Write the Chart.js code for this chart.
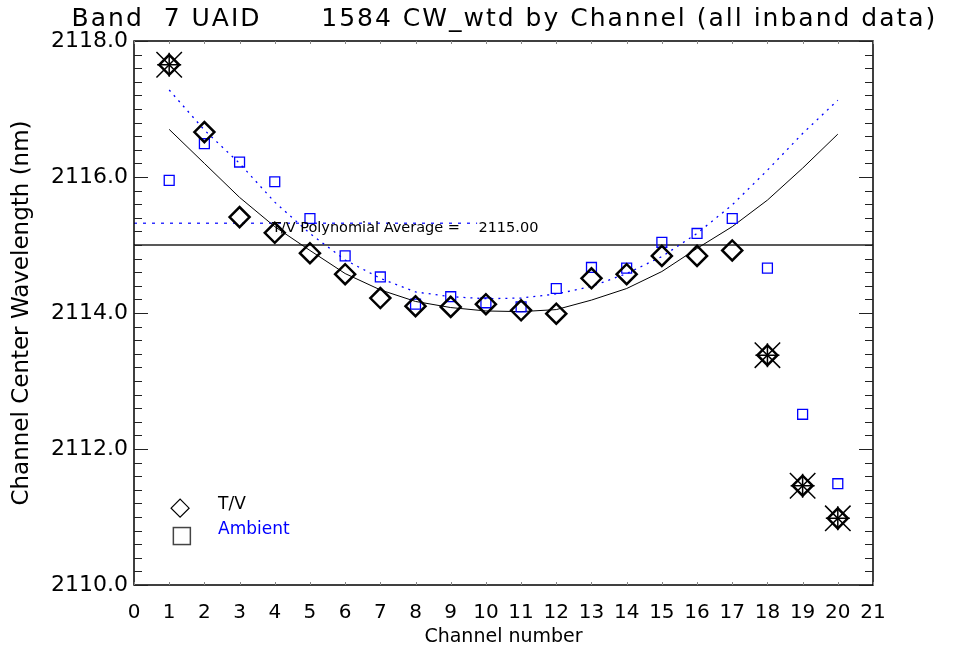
<!DOCTYPE html>
<html>
<head>
<meta charset="utf-8">
<script src="https://cdn.jsdelivr.net/npm/chart.js@4"></script>
<style>
  body { margin: 0; background: #fff; }
</style>
</head>
<body>
<canvas id="chart-cw" width="957" height="652"></canvas>
<script>
// channels 1..20
var channels = [1, 2, 3, 4, 5, 6, 7, 8, 9, 10, 11, 12, 13, 14, 15, 16, 17, 18, 19, 20];
// measured centre wavelengths (nm)
var tv_values = [2117.65, 2116.66, 2115.41, 2115.18, 2114.88, 2114.57, 2114.22, 2114.10, 2114.09, 2114.13,
	2114.04, 2113.99, 2114.51, 2114.57, 2114.84, 2114.84, 2114.92, 2113.38, 2111.46, 2110.98];
var ambient_values = [2115.95, 2116.49, 2116.22, 2115.93, 2115.39, 2114.84, 2114.53, 2114.13, 2114.24, 2114.15,
	2114.09, 2114.36, 2114.67, 2114.66, 2115.04, 2115.17, 2115.39, 2114.66, 2112.51, 2111.49];
// polynomial fits
var tv_fit = [2116.70, 2116.20, 2115.70, 2115.27, 2114.92, 2114.58, 2114.34, 2114.17, 2114.08, 2114.03,
	2114.02, 2114.05, 2114.19, 2114.36, 2114.61, 2114.95, 2115.27, 2115.66, 2116.13, 2116.63];
var ambient_fit = [2117.28, 2116.69, 2116.20, 2115.63, 2115.17, 2114.78, 2114.51, 2114.31, 2114.24, 2114.21,
	2114.22, 2114.28, 2114.39, 2114.58, 2114.83, 2115.17, 2115.59, 2116.10, 2116.64, 2117.13];
// channels flagged with a star (excluded points)
var outlier_channels = [1, 18, 19, 20];
var tv_average = 2115.00;
var ambient_average = 2115.32;
var ambient_avg_range = [0, 9.75];
var x_ticks = [0, 21];
var y_ticks = [2110, 2118];

var font_name = "'DejaVu Sans', sans-serif";

function pts(xs, ys) {
	var out = [];
	for (var i = 0; i < xs.length; i++) out.push({x: xs[i], y: ys[i]});
	return out;
}

var outlier_pts = [];
outlier_channels.forEach(function (c) {
	outlier_pts.push({x: c, y: tv_values[channels.indexOf(c)]});
});

var idl_plugin = {
	id: 'idl_plugin',
	afterDraw: function (chart) {
		var ctx = chart.ctx;
		var a = chart.chartArea;
		var sx = chart.scales.x, sy = chart.scales.y;
		ctx.save();

		/* frame */
		ctx.strokeStyle = '#000';
		ctx.lineWidth = 1.5;
		ctx.strokeRect(a.left, a.top, a.right - a.left, a.bottom - a.top);

		/* y ticks every 0.2, both sides */
		ctx.lineWidth = 1;
		ctx.strokeStyle = '#222';
		for (var k = 0; k <= 40; k++) {
			var v = y_ticks[0] + k * 0.2;
			var py = Math.round(sy.getPixelForValue(v)) + 0.5;
			var len = (k % 10 === 0) ? 14 : 8;
			ctx.beginPath();
			ctx.moveTo(a.left, py); ctx.lineTo(a.left + len, py);
			ctx.moveTo(a.right, py); ctx.lineTo(a.right - len, py);
			ctx.stroke();
		}
		/* x ticks every channel, short */
		ctx.strokeStyle = '#888';
		for (var c = x_ticks[0]; c <= x_ticks[1]; c++) {
			var px = Math.round(sx.getPixelForValue(c)) + 0.5;
			ctx.beginPath();
			ctx.moveTo(px, a.bottom); ctx.lineTo(px, a.bottom - 3);
			ctx.moveTo(px, a.top); ctx.lineTo(px, a.top + 3);
			ctx.stroke();
		}

		/* title */
		ctx.fillStyle = '#000';
		ctx.font = '25px ' + font_name;
		ctx.letterSpacing = '2px';
		ctx.textAlign = 'center';
		ctx.textBaseline = 'middle';
		ctx.fillText('Band  7 UAID      1584 CW_wtd by Channel (all inband data)', (a.left + a.right) / 2 + 1, 19);
		ctx.letterSpacing = '0px';

		/* average annotation */
		ctx.font = '14.5px ' + font_name;
		ctx.textAlign = 'left';
		ctx.fillText('T/V Polynomial Average =    ' + tv_average.toFixed(2),
			sx.getPixelForValue(3.92), sy.getPixelForValue(2115.25));

		/* legend */
		var lx = sx.getPixelForValue(1.31), ly = sy.getPixelForValue(2111.13);
		ctx.lineWidth = 1.2;
		ctx.strokeStyle = '#000';
		ctx.beginPath();
		ctx.moveTo(lx - 9, ly); ctx.lineTo(lx, ly - 9); ctx.lineTo(lx + 9, ly); ctx.lineTo(lx, ly + 9);
		ctx.closePath();
		ctx.stroke();
		var qx = sx.getPixelForValue(1.36), qy = sy.getPixelForValue(2110.72);
		ctx.strokeStyle = '#444';
		ctx.lineWidth = 1.5;
		ctx.strokeRect(qx - 8.5, qy - 8.5, 17, 17);
		ctx.font = '17px ' + font_name;
		ctx.fillStyle = '#000';
		ctx.fillText('T/V', sx.getPixelForValue(2.39), sy.getPixelForValue(2111.18));
		ctx.fillStyle = '#0000ff';
		ctx.fillText('Ambient', sx.getPixelForValue(2.39), sy.getPixelForValue(2110.81));
		ctx.restore();
	}
};

var ctx_cw = document.getElementById('chart-cw').getContext('2d');
new Chart(ctx_cw, {
	type: 'scatter',
	data: {
		datasets: [{
			label: 'T/V fit',
			data: pts(channels, tv_fit),
			showLine: true,
			borderColor: '#000',
			borderWidth: 1,
			pointRadius: 0,
			order: 5
		}, {
			label: 'Ambient fit',
			data: pts(channels, ambient_fit),
			showLine: true,
			borderColor: '#0000ff',
			borderWidth: 1.3,
			borderDash: [2, 5],
			pointRadius: 0,
			order: 5
		}, {
			label: 'T/V average',
			data: pts(x_ticks, [tv_average, tv_average]),
			showLine: true,
			borderColor: '#222',
			borderWidth: 1.3,
			pointRadius: 0,
			order: 6
		}, {
			label: 'Ambient average',
			data: pts(ambient_avg_range, [ambient_average, ambient_average]),
			showLine: true,
			borderColor: '#3333ff',
			borderWidth: 1.5,
			borderDash: [3, 6],
			pointRadius: 0,
			order: 6
		}, {
			label: 'Ambient',
			data: pts(channels, ambient_values),
			pointStyle: 'rect',
			pointRadius: 7,
			pointBorderColor: '#0000ff',
			pointBackgroundColor: 'rgba(0,0,0,0)',
			pointBorderWidth: 1.3,
			order: 3
		}, {
			label: 'T/V',
			data: pts(channels, tv_values),
			pointStyle: 'rectRot',
			pointRadius: 10,
			pointBorderColor: '#000',
			pointBackgroundColor: 'rgba(0,0,0,0)',
			pointBorderWidth: 2.5,
			order: 2
		}, {
			label: 'Excluded',
			data: outlier_pts,
			pointStyle: 'cross',
			pointRadius: 12,
			pointBorderColor: '#000',
			pointBackgroundColor: 'rgba(0,0,0,0)',
			pointBorderWidth: 1.5,
			order: 1
		}, {
			label: 'Excluded (diag)',
			data: outlier_pts,
			pointStyle: 'crossRot',
			pointRadius: 18,
			pointBorderColor: '#000',
			pointBackgroundColor: 'rgba(0,0,0,0)',
			pointBorderWidth: 1.5,
			order: 1
		}]
	},
	options: {
		responsive: false,
		animation: false,
		devicePixelRatio: 1,
		layout: {padding: {top: 41, right: 84, bottom: 0, left: 0}},
		plugins: {
			legend: {display: false},
			tooltip: {enabled: false}
		},
		scales: {
			x: {
				type: 'linear',
				min: x_ticks[0],
				max: x_ticks[1],
				grid: {display: false, drawTicks: false},
				border: {display: false},
				ticks: {stepSize: 1, padding: 16, color: '#000', font: {family: font_name, size: 20}},
				title: {display: true, text: 'Channel number', color: '#000', padding: {top: 0, bottom: 4},
					font: {family: font_name, size: 19}},
				afterFit: function (s) { s.height = 67; }
			},
			y: {
				type: 'linear',
				min: y_ticks[0],
				max: y_ticks[1],
				grid: {display: false, drawTicks: false},
				border: {display: false},
				ticks: {stepSize: 2, padding: 6, color: '#000', font: {family: font_name, size: 22},
					callback: function (v) { return v.toFixed(1); }},
				title: {display: true, text: 'Channel Center Wavelength (nm)', color: '#000', padding: {top: 8, bottom: 0},
					font: {family: font_name, size: 23}},
				afterFit: function (s) { s.width = 134; }
			}
		}
	},
	plugins: [idl_plugin]
});
</script>
</body>
</html>
